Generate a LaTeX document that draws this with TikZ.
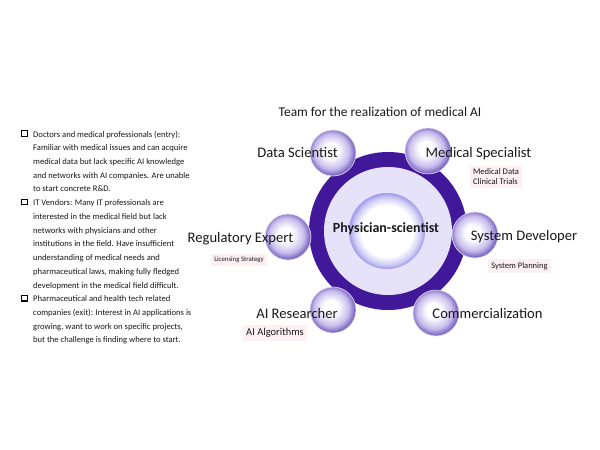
\documentclass[tikz,border=0pt]{standalone}
\usepackage{fontspec}
\setmainfont{Carlito}
\definecolor{ringc}{RGB}{66,24,154}
\definecolor{lavfill}{RGB}{230,226,250}
\definecolor{satmid}{RGB}{200,188,236}
\definecolor{satedge}{RGB}{126,106,196}
\definecolor{glowc}{RGB}{160,154,234}
\definecolor{pinkbg}{RGB}{253,240,243}
\definecolor{txt}{RGB}{25,25,25}
\pgfdeclareradialshading{satball}{\pgfpoint{-3bp}{3bp}}{color(0bp)=(white); color(8bp)=(white); color(19bp)=(satmid); color(25bp)=(satedge); color(50bp)=(satedge)}
\pgfdeclareradialshading{glowball}{\pgfpoint{0bp}{0bp}}{color(0bp)=(white); color(17bp)=(white); color(22bp)=(glowc!50!white); color(25bp)=(glowc); color(50bp)=(glowc)}
\begin{document}
\begin{tikzpicture}[x=1pt,y=-1pt,
  sat/.style={circle, minimum size=46pt, inner sep=0pt, shading=satball, draw=white!80!satedge, line width=0.6pt},
  lab/.style={font=\fontsize{14.6}{17}\selectfont, text=txt, anchor=base, inner sep=0pt},
  tag/.style={fill=pinkbg, text=txt, inner sep=3pt, align=left},
  body/.style={font=\fontsize{8.6}{10}\selectfont, text=txt, anchor=base west, inner sep=0pt},
  bul/.style={draw=black, line width=1.1pt, minimum size=5.4pt, inner sep=0pt}]
\useasboundingbox (0,0) rectangle (600,450);
\fill[white] (0,0) rectangle (600,450);
% left text
\foreach \t [count=\i] in {
  {Doctors and medical professionals (entry):},
  {Familiar with medical issues and can acquire},
  {medical data but lack specific AI knowledge},
  {and networks with AI companies. Are unable},
  {to start concrete R\&D.},
  {IT Vendors: Many IT professionals are},
  {interested in the medical field but lack},
  {networks with physicians and other},
  {institutions in the field. Have insufficient},
  {understanding of medical needs and},
  {pharmaceutical laws, making fully fledged},
  {development in the medical field difficult.},
  {Pharmaceutical and health tech related},
  {companies (exit): Interest in AI applications is},
  {growing, want to work on specific projects,},
  {but the challenge is finding where to start.}}
  \node[body] (line\i) at (33,{137+(\i-1)*13.73}) {\t};
\node[bul] (b1) at (24.5,133.5) {};
\node[bul] (b2) at (24.5,{133.5+5*13.73}) {};
\node[bul] (b3) at (24.5,{133.5+12*13.73}) {};
% title
\node[font=\fontsize{13.4}{16}\selectfont, text=txt, anchor=base, inner sep=0pt] (title) at (380,116) {Team for the realization of medical AI};
% main rings
\node[circle, fill=ringc, minimum size=158pt, inner sep=0pt] (ring) at (388,231) {};
\node[circle, fill=lavfill, minimum size=128pt, inner sep=0pt] (lav) at (388,231) {};
\node[circle, shading=glowball, minimum size=76pt, inner sep=0pt] (core) at (387,231) {};
\node[font=\bfseries\fontsize{14}{16}\selectfont, text=txt, anchor=base, inner sep=0pt] (ps) at (386,232) {Physician-scientist};
% satellites
\node[sat] (s1) at (333,153) {};
\node[sat] (s2) at (428,151) {};
\node[sat] (s3) at (288,237) {};
\node[sat] (s4) at (475,235) {};
\node[sat] (s5) at (333,310) {};
\node[sat] (s6) at (436,313) {};
% labels
\node[lab] (l1) at (297.5,157) {Data Scientist};
\node[lab] (l2) at (478.5,157) {Medical Specialist};
\node[lab] (l3) at (240.5,242) {Regulatory Expert};
\node[lab] (l4) at (524,240) {System Developer};
\node[lab] (l5) at (297,318) {AI Researcher};
\node[lab] (l6) at (487.5,318) {Commercialization};
% tags
\node[tag, font=\fontsize{8.6}{10}\selectfont] (t1) at (496,177) {Medical Data\\Clinical Trials};
\node[tag, font=\fontsize{8.5}{10}\selectfont] (t2) at (519.5,266) {System Planning};
\node[tag, font=\fontsize{6.8}{8}\selectfont] (t3) at (239,260) {Licensing Strategy};
\node[tag, font=\fontsize{10.5}{12}\selectfont] (t4) at (275,333) {AI Algorithms};
\end{tikzpicture}
\end{document}
